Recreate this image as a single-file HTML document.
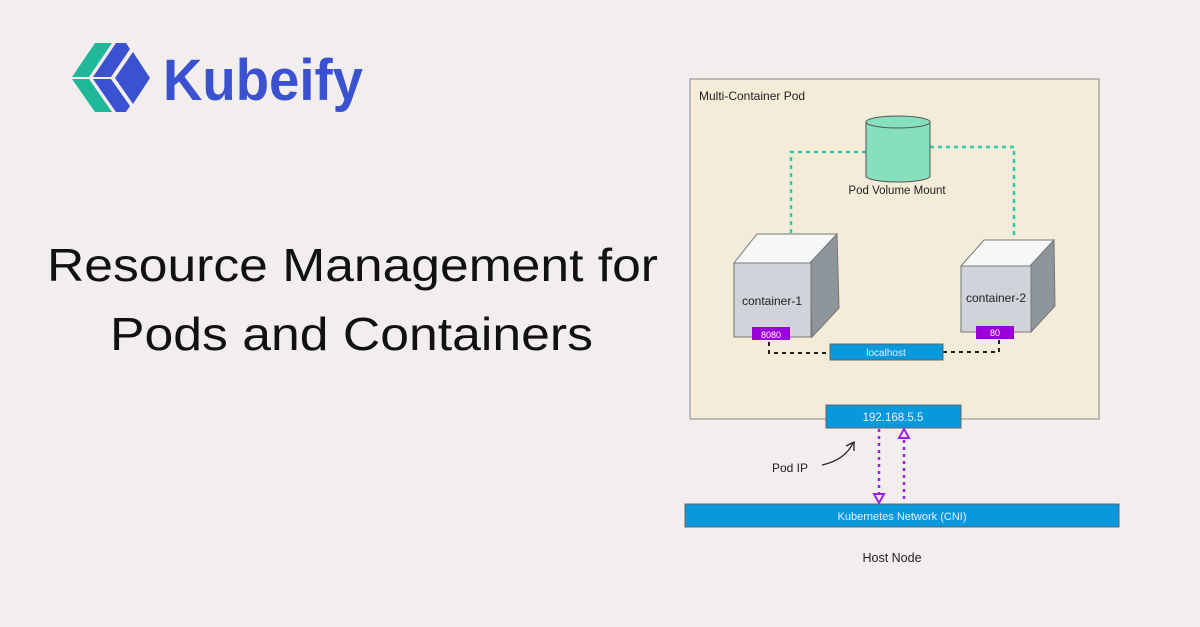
<!DOCTYPE html>
<html><head><meta charset="utf-8"><style>
html,body{margin:0;padding:0;background:#f2eeed;}
svg{display:block}
</style></head><body>
<svg width="1200" height="627" viewBox="0 0 1200 627" xmlns="http://www.w3.org/2000/svg" font-family="Liberation Sans, sans-serif">
<rect width="1200" height="627" fill="#f2eeed"/>
<!-- logo -->
<polygon points="72,77 95,43 112,43 89,77" fill="#1fb99a"/>
<polygon points="72,79 89,79 112,112 95,112" fill="#1fb99a"/>
<polygon points="93,77 116,43 126,43 130,49 111,77" fill="#3b52d0"/>
<polygon points="93,79 111,79 130,106 126,112 116,112" fill="#3b52d0"/>
<polygon points="115,78 133,52 150,78 133,104" fill="#3b52d0"/>
<polygon points="131,46 152,77 131,46" fill="#3b52d0"/>
<text x="163" y="100" font-size="58" font-weight="bold" fill="#3b52d0" textLength="200" lengthAdjust="spacingAndGlyphs">Kubeify</text>
<!-- title -->
<text x="47" y="281" font-size="46" fill="#111" textLength="611" lengthAdjust="spacingAndGlyphs">Resource Management for</text>
<text x="110" y="350" font-size="46" fill="#111" textLength="483" lengthAdjust="spacingAndGlyphs">Pods and Containers</text>
<!-- pod -->
<rect x="690" y="79" width="409" height="340" fill="#f3ecd8" stroke="#999" stroke-width="1.2"/>
<text x="699" y="100" font-size="12" fill="#222">Multi-Container Pod</text>
<!-- dotted teal -->
<polyline points="866,152 791,152 791,233" fill="none" stroke="#2fc8a8" stroke-width="2.5" stroke-dasharray="4,4"/>
<polyline points="930,147 1014,147 1014,237" fill="none" stroke="#2fc8a8" stroke-width="2.5" stroke-dasharray="4,4"/>
<!-- cylinder -->
<path d="M866,122 L866,176 A32,6 0 0 0 930,176 L930,122" fill="#86e0bd" stroke="#555" stroke-width="1"/>
<ellipse cx="898" cy="122" rx="32" ry="6" fill="#86e0bd" stroke="#555" stroke-width="1"/>
<text x="897" y="194" font-size="11.5" fill="#222" text-anchor="middle">Pod Volume Mount</text>
<!-- container 1 -->
<polygon points="734,263 757,234 837,234 810,263" fill="#f7f7f7" stroke="#777"/>
<polygon points="810,263 837,234 839,308 812,337" fill="#8e959b" stroke="#777"/>
<rect x="734" y="263" width="77" height="74" fill="#d0d4da" stroke="#777"/>
<text x="772" y="305" font-size="12" fill="#222" text-anchor="middle">container-1</text>
<rect x="752" y="327" width="38" height="13" fill="#9b00d8"/>
<text x="771" y="338" font-size="9" fill="#fff" text-anchor="middle">8080</text>
<!-- container 2 -->
<polygon points="961,266 984,240 1054,240 1030,266" fill="#f7f7f7" stroke="#777"/>
<polygon points="1030,266 1054,240 1055,306 1031,332" fill="#8e959b" stroke="#777"/>
<rect x="961" y="266" width="70" height="66" fill="#d0d4da" stroke="#777"/>
<text x="996" y="302" font-size="12" fill="#222" text-anchor="middle">container-2</text>
<rect x="976" y="326" width="38" height="13" fill="#9b00d8"/>
<text x="995" y="336" font-size="9" fill="#fff" text-anchor="middle">80</text>
<!-- localhost -->
<polyline points="769,342 769,353 830,353" fill="none" stroke="#222" stroke-width="2" stroke-dasharray="4,4"/>
<polyline points="943,352 999,352 999,340" fill="none" stroke="#222" stroke-width="2" stroke-dasharray="4,4"/>
<rect x="830" y="344" width="113" height="16" fill="#0898dc" stroke="#666"/>
<text x="886" y="356" font-size="10" fill="#eef" text-anchor="middle">localhost</text>
<!-- IP -->
<rect x="826" y="405" width="135" height="23" fill="#0898dc" stroke="#666"/>
<text x="893" y="421" font-size="11.5" fill="#eef" text-anchor="middle">192.168.5.5</text>
<line x1="879" y1="429" x2="879" y2="494" stroke="#a020e0" stroke-width="2.5" stroke-dasharray="3,4"/>
<polygon points="874,494 884,494 879,503" fill="none" stroke="#a020e0" stroke-width="2"/>
<line x1="904" y1="440" x2="904" y2="503" stroke="#a020e0" stroke-width="2.5" stroke-dasharray="3,4"/>
<polygon points="899,438 909,438 904,429" fill="none" stroke="#a020e0" stroke-width="2"/>
<text x="772" y="472" font-size="12" fill="#222">Pod IP</text>
<path d="M822,465 Q845,460 853,443" fill="none" stroke="#222" stroke-width="1.3"/>
<polyline points="846,446 854,442 854,451" fill="none" stroke="#222" stroke-width="1.3"/>
<!-- CNI -->
<rect x="685" y="504" width="434" height="23" fill="#0898dc" stroke="#666"/>
<text x="902" y="520" font-size="11" fill="#eef" text-anchor="middle">Kubernetes Network (CNI)</text>
<text x="892" y="562" font-size="12.5" fill="#222" text-anchor="middle">Host Node</text>
</svg>
</body></html>
